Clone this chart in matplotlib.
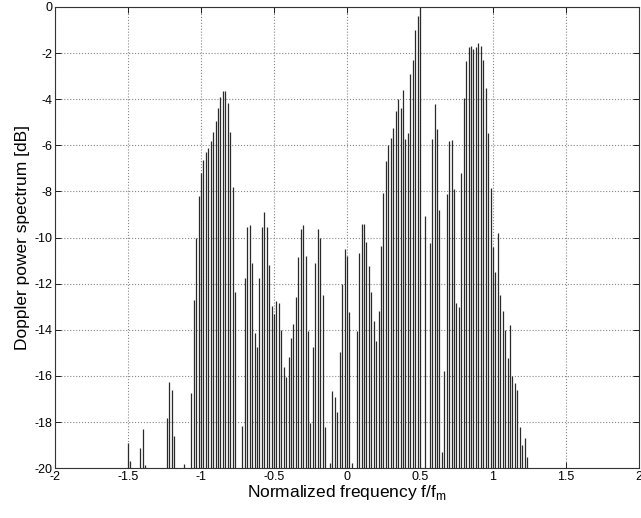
import numpy as np
import matplotlib
matplotlib.use("Agg")
import matplotlib.pyplot as plt

# spectrum lines (bin index, 1 bin = fm/60)
BIN_WIDTH = 1.0 / 60.0
bins = [
    -90, -89, -85, -84, -83, -74, -73, -72, -71, -67,
    -64, -63, -62, -61, -60, -59, -58, -57, -56, -55,
    -54, -53, -52, -51, -50, -49, -48, -47, -46,
    -43, -42, -41, -40, -39, -38, -37, -36, -35, -34,
    -33, -32, -31, -30, -29, -28, -27, -26, -25, -24,
    -23, -22, -21, -20, -19, -18, -17, -16, -15, -14,
    -13, -12, -11, -10, -9, -7, -6, -5, -4, -3,
    -2, -1, 0, 1, 2, 4, 5, 6, 7, 8,
    9, 10, 11, 12, 13, 14, 15, 16, 17, 18,
    19, 20, 21, 22, 23, 24, 25, 26, 27, 28,
    29, 30, 32, 34, 35, 36, 37, 38, 39, 40,
    41, 42, 43, 44, 45, 46, 47, 48, 49, 50,
    51, 52, 53, 54, 55, 56, 57, 58, 59, 60,
    61, 62, 63, 64, 65, 66, 67, 68, 69, 70,
    71, 72, 73, 74,
]
power_db = [
    -18.9, -19.7, -19.1, -18.3, -19.85, -17.8, -16.25, -16.6, -18.6, -19.8,
    -16.75, -12.7, -10.0, -8.2, -7.2, -6.65, -6.3, -6.1, -5.8, -5.41,
    -4.95, -4.4, -3.92, -3.63, -3.66, -4.15, -5.42, -7.82, -12.37,
    -18.17, -11.74, -9.55, -9.45, -11.11, -14.12, -14.73, -11.74, -9.55, -8.87,
    -9.52, -11.19, -12.97, -13.31, -12.77, -12.85, -14.0, -15.6, -16.03, -15.16,
    -14.37, -13.74, -12.56, -10.85, -9.64, -9.47, -10.8, -14.05, -18.05, -14.73,
    -11.12, -9.63, -10.03, -12.49, -18.2, -19.78, -16.64, -16.9, -17.55, -14.96,
    -12.0, -10.5, -10.8, -13.24, -19.76, -14.05, -10.66, -9.41, -9.41, -10.18,
    -11.23, -12.35, -13.6, -14.48, -13.17, -10.37, -8.05, -6.67, -6.0, -5.68,
    -5.25, -4.5, -4.0, -4.4, -3.6, -5.73, -5.45, -2.9, -2.3, -1.0,
    -0.4, -0.05, -9.06, -10.25, -5.73, -4.2, -5.3, -8.8, -19.28, -15.78,
    -8.1, -5.81, -5.77, -7.9, -12.82, -13.03, -7.2, -3.94, -2.33, -1.72,
    -1.69, -1.83, -1.72, -1.58, -1.69, -2.3, -3.53, -5.45, -7.86, -10.4,
    -11.5, -9.8, -12.5, -13.2, -14.0, -15.2, -13.8, -16.0, -16.3, -16.6,
    -18.2, -19.0, -18.7, -19.5,
]

xticks = [-2, -1.5, -1, -0.5, 0, 0.5, 1, 1.5, 2]
xtick_labels = ['-2', '-1.5', '-1', '-0.5', '0', '0.5', '1', '1.5', '2']
yticks = list(range(-20, 1, 2))
ytick_labels = [str(v) for v in yticks]

plt.rcParams['font.family'] = ['Liberation Sans', 'DejaVu Sans']

freq = np.array(bins) * BIN_WIDTH
vals = np.array(power_db)

fig = plt.figure(figsize=(6.41, 5.18), dpi=100)
ax = fig.add_axes([0.0858, 0.096, 0.911, 0.8907])

ax.vlines(freq, -20, vals, colors='#2a2a2a', linewidth=0.9)

ax.set_xlim(-2, 2)
ax.set_ylim(-20, 0)
ax.set_xticks(xticks)
ax.set_xticklabels(xtick_labels, fontsize=9)
ax.set_yticks(yticks)
ax.set_yticklabels(ytick_labels, fontsize=9)
ax.tick_params(direction='in', top=True, right=True, length=4, width=0.6, pad=2)
ax.grid(True, linestyle=':', color='#888888', linewidth=0.8)
for s in ax.spines.values():
    s.set_linewidth(0.8)
    s.set_color('#333333')

ax.set_xlabel('Normalized frequency f/f$_\\mathregular{m}$', fontsize=12.5, labelpad=0)
ax.set_ylabel('Doppler power spectrum [dB]', fontsize=12.5, labelpad=3)

fig.savefig('out.png', dpi=100)
